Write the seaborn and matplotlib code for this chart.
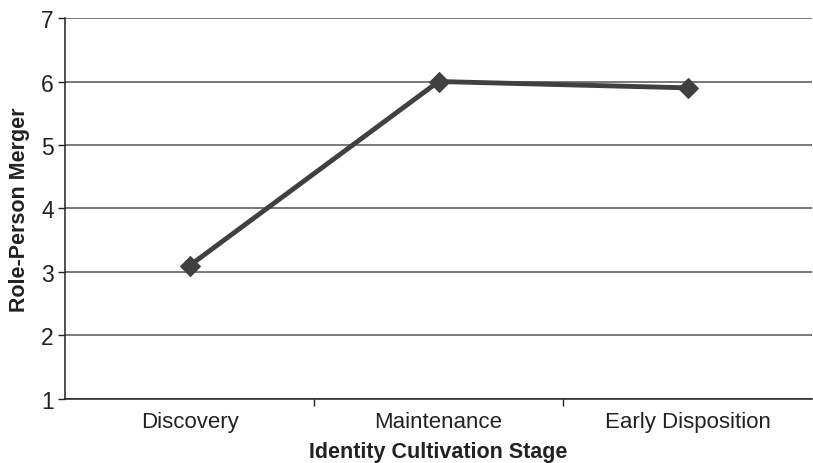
import numpy as np
import pandas as pd
import seaborn as sns
import matplotlib.pyplot as plt
from matplotlib.ticker import FixedLocator

sns.set_theme(style="white")
plt.rcParams['font.family'] = ['Liberation Sans', 'DejaVu Sans']

# Data
stages = ["Discovery", "Maintenance", "Early Disposition"]
merger = [3.1, 6.0, 5.9]

df = pd.DataFrame({"stage": stages, "merger": merger})

fig = plt.figure(figsize=(8.13, 4.64), dpi=100)
ax = fig.add_axes([0.08, 0.138, 0.919, 0.821])

# Gridlines
ax.set_ylim(1, 7)
ax.set_yticks(range(1, 8))
ax.yaxis.grid(True, color="#555555", linewidth=1.1)
ax.set_axisbelow(True)

sns.lineplot(data=df, x="stage", y="merger", ax=ax, sort=False,
             color="#404040", linewidth=3.5, marker="D", markersize=10,
             markeredgecolor="#404040", markerfacecolor="#404040")

ax.set_xlim(-0.5, 2.5)
ax.xaxis.set_minor_locator(FixedLocator([0.5, 1.5]))
ax.tick_params(axis="x", which="major", length=0, labelsize=16, colors="#222222", pad=9)
ax.tick_params(axis="x", which="minor", length=5, width=1, color="#222222", direction="out", bottom=True)
ax.tick_params(axis="y", length=5, width=1, color="#222222", labelsize=16.5, colors="#222222", left=True, pad=3)

for s in ["top", "right"]:
    ax.spines[s].set_visible(False)
for s in ["left", "bottom"]:
    ax.spines[s].set_color("#222222")
    ax.spines[s].set_linewidth(1.1)

ax.set_xlabel("Identity Cultivation Stage", fontsize=15.5, fontweight="bold", color="#222222", labelpad=6)
ax.set_ylabel("Role-Person Merger", fontsize=15.5, fontweight="bold", color="#222222", labelpad=8)

fig.savefig("out.png", dpi=100)
